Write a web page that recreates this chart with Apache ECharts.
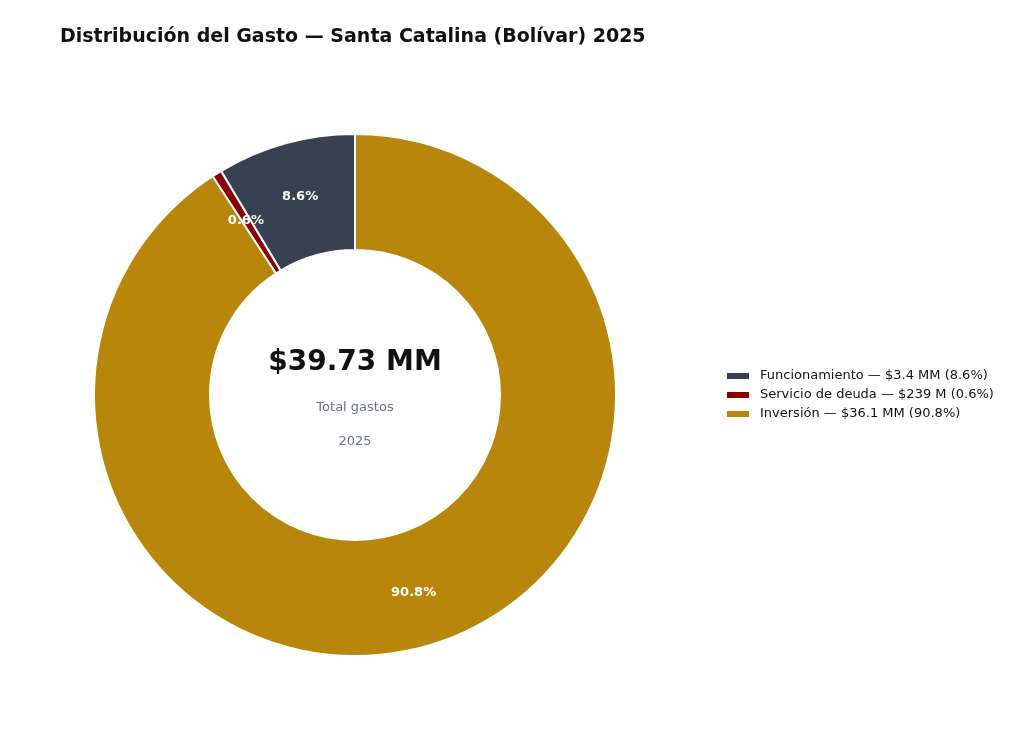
<!DOCTYPE html>
<html>
<head>
<meta charset="utf-8">
<script src="https://cdn.jsdelivr.net/npm/echarts@6/dist/echarts.min.js"></script>
<style>
  html, body { margin: 0; padding: 0; background: #fff; }
  #chart { width: 1024px; height: 750px; }
</style>
</head>
<body>
<div id="chart"></div>
<script>
// rubros del gasto 2025 (miles de millones de pesos)
const categories = ['Funcionamiento', 'Servicio de deuda', 'Inversión']
const values = [3.41, 0.239, 36.08]
const colors = ['#374151', '#8B0000', '#B8860B']

const total = values.reduce((a, b) => a + b, 0)

function fmtMoney (v) {
  // menos de mil millones se muestra en millones
  if (v < 1) return '$' + Math.round(v * 1000) + ' M'
  return '$' + v.toFixed(1) + ' MM'
}

const chart = echarts.init(document.getElementById('chart'))
const font = 'DejaVu Sans'

chart.setOption({
  backgroundColor: '#fff',
  animation: false,
  textStyle: { fontFamily: font },
  title: {
    text: 'Distribución del Gasto — Santa Catalina (Bolívar) 2025',
    left: 55,
    top: 23,
    textStyle: { fontFamily: font, fontSize: 19, fontWeight: 'bold', color: '#111' }
  },
  legend: {
    orient: 'vertical',
    left: 725,
    top: 369,
    padding: 0,
    itemWidth: 24,
    itemHeight: 8,
    itemGap: 5,
    icon: 'rect',
    textStyle: { fontFamily: font, fontSize: 13, color: '#111', padding: [0, 0, 0, 5], lineHeight: 14 },
    formatter: name => {
      const i = categories.indexOf(name)
      return name + ' — ' + fmtMoney(values[i]) + ' (' + (values[i] / total * 100).toFixed(1) + '%)'
    }
  },
  graphic: [
    {
      type: 'text',
      x: 355, y: 363,
      style: { text: '$' + total.toFixed(2) + ' MM', fontFamily: font, fontSize: 28, fontWeight: 'bold', fill: '#111', textAlign: 'center', textVerticalAlign: 'middle' }
    },
    {
      type: 'text',
      x: 355, y: 408,
      style: { text: 'Total gastos', fontFamily: font, fontSize: 13, fill: '#6b7280', textAlign: 'center', textVerticalAlign: 'middle' }
    },
    {
      type: 'text',
      x: 355, y: 442,
      style: { text: '2025', fontFamily: font, fontSize: 13, fill: '#6b7280', textAlign: 'center', textVerticalAlign: 'middle' }
    }
  ],
  series: [
    {
      type: 'pie',
      center: [355, 395],
      radius: [145, 261],
      startAngle: 90,
      clockwise: false,
      avoidLabelOverlap: false,
      itemStyle: { borderColor: '#fff', borderWidth: 2 },
      label: {
        show: true,
        position: 'inside',
        color: '#fff',
        fontFamily: font,
        fontSize: 13,
        fontWeight: 'bold',
        formatter: p => p.percent.toFixed(1) + '%'
      },
      labelLine: { show: false },
      emphasis: { disabled: true },
      data: categories.map((c, i) => ({ name: c, value: values[i], itemStyle: { color: colors[i] } }))
    }
  ]
})
</script>
</body>
</html>
